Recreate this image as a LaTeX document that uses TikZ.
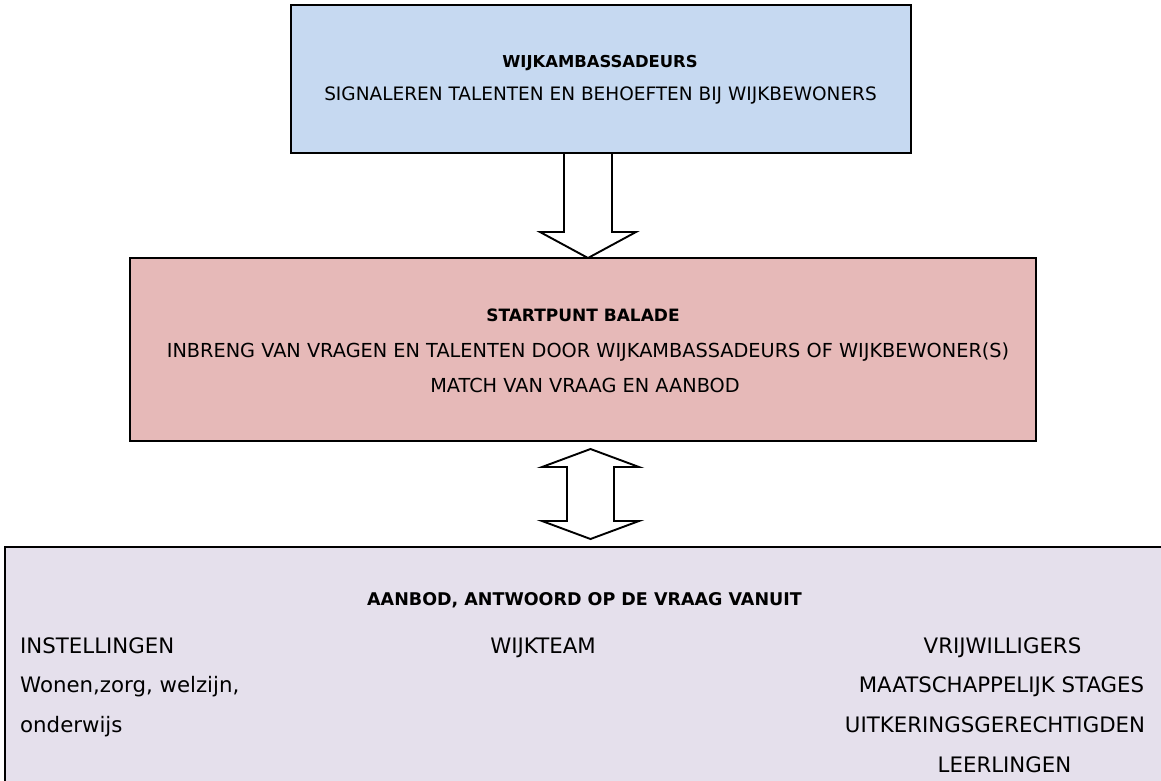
\documentclass[tikz,border=0pt]{standalone}
\usepackage{fontspec}
\setmainfont{DejaVu Sans}
\usetikzlibrary{calc}
\definecolor{cTop}{HTML}{C6D9F1}
\definecolor{cMid}{HTML}{E6B9B8}
\definecolor{cBot}{HTML}{E5E0EC}
\tikzset{
  box/.style={draw=black, line width=2.8pt, inner sep=0pt},
  blockarrow/.style={draw=black, fill=white, line width=1.9pt, line join=miter},
  txt/.style={anchor=base, inner sep=0pt, text=black},
  fTopB/.style={font=\fontsize{16.4}{18}\selectfont\bfseries},
  fTop/.style={font=\fontsize{18.5}{20}\selectfont},
  fMidB/.style={font=\fontsize{17}{19}\selectfont\bfseries},
  fMid/.style={font=\fontsize{19.3}{21}\selectfont},
  fBotB/.style={font=\fontsize{17.5}{19}\selectfont\bfseries},
  fBot/.style={font=\fontsize{21.3}{23}\selectfont},
}
\begin{document}
\begin{tikzpicture}[x=1pt,y=-1pt]
\useasboundingbox (0,0) rectangle (1161,780);
% arrows (drawn first, boxes cover their ends)
\coordinate (d1) at (588,153);
\coordinate (d2) at (588,258);
\draw[blockarrow] ($(d1)+(-24,0)$) -- ($(d2)+(-24,-26)$) -- ($(d2)+(-48,-26)$) -- (d2)
  -- ($(d2)+(48,-26)$) -- ($(d2)+(24,-26)$) -- ($(d1)+(24,0)$) -- cycle;
\coordinate (u1) at (590.5,449);
\coordinate (u2) at (590.5,539);
\draw[blockarrow] (u1) -- ($(u1)+(48.5,18)$) -- ($(u1)+(23.5,18)$) -- ($(u2)+(23.5,-18)$)
  -- ($(u2)+(48.5,-18)$) -- (u2) -- ($(u2)+(-48.5,-18)$) -- ($(u2)+(-23.5,-18)$)
  -- ($(u1)+(-23.5,18)$) -- ($(u1)+(-48.5,18)$) -- cycle;
% boxes
\node[box, fill=cTop, minimum width=620pt, minimum height=148pt] (top) at (601,79) {};
\node[box, fill=cMid, minimum width=906pt, minimum height=183pt] (mid) at (583,349.5) {};
\node[box, fill=cBot, minimum width=1170pt, minimum height=243pt] (bot) at (590,668.5) {};
% top texts
\node[txt, fTopB] (tTitle) at (600,67) {WIJKAMBASSADEURS};
\node[txt, fTop] (tSub) at (600.5,100) {SIGNALEREN TALENTEN EN BEHOEFTEN BIJ WIJKBEWONERS};
% middle texts
\node[txt, fMidB] (mTitle) at (583,321.5) {STARTPUNT BALADE};
\node[txt, fMid] (mL1) at (588,357) {INBRENG VAN VRAGEN EN TALENTEN DOOR WIJKAMBASSADEURS OF WIJKBEWONER(S)};
\node[txt, fMid] (mL2) at (585,392) {MATCH VAN VRAAG EN AANBOD};
% bottom texts
\node[txt, fBotB] (bTitle) at (584.5,605) {AANBOD, ANTWOORD OP DE VRAAG VANUIT};
\node[txt, fBot, anchor=base west] (bL1) at (20,653) {INSTELLINGEN};
\node[txt, fBot, anchor=base west] (bL2) at (20,692) {Wonen,zorg, welzijn,};
\node[txt, fBot, anchor=base west] (bL3) at (20,732) {onderwijs};
\node[txt, fBot] (bMid) at (543,653) {WIJKTEAM};
\node[txt, fBot] (bR1) at (1002.5,653) {VRIJWILLIGERS};
\node[txt, fBot] (bR2) at (1001.5,692) {MAATSCHAPPELIJK STAGES};
\node[txt, fBot] (bR3) at (995,732) {UITKERINGSGERECHTIGDEN};
\node[txt, fBot] (bR4) at (1004.5,772) {LEERLINGEN};
\end{tikzpicture}
\end{document}
